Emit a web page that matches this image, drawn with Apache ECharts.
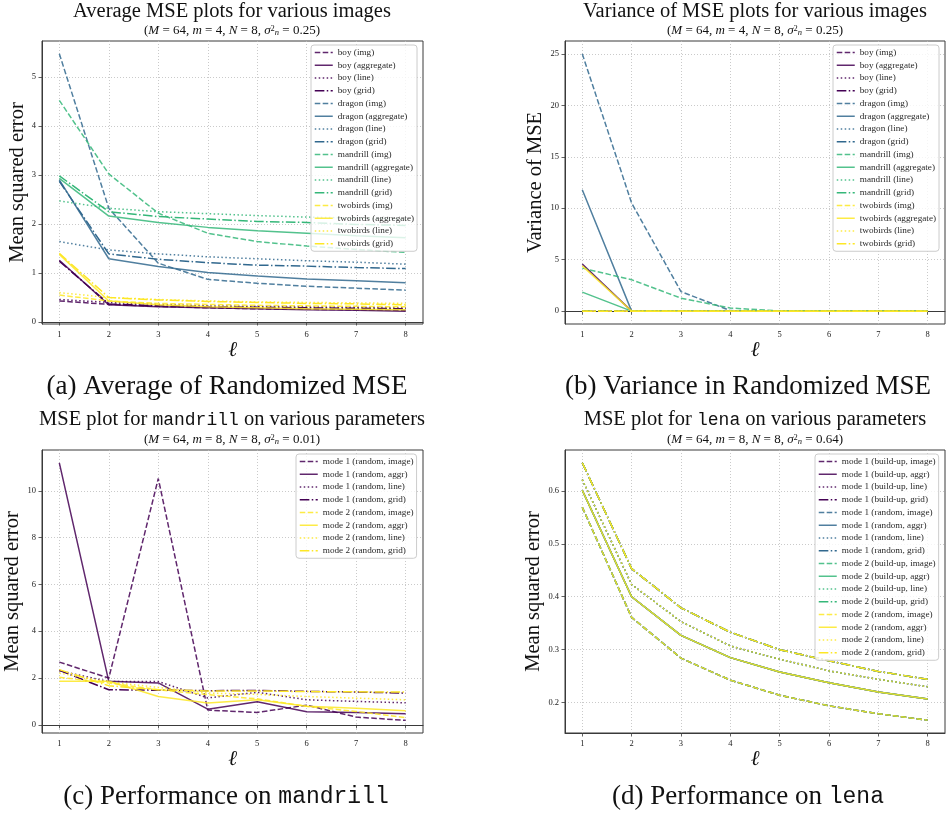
<!DOCTYPE html>
<html><head><meta charset="utf-8">
<script src="https://cdn.jsdelivr.net/npm/echarts@6/dist/echarts.min.js"></script>
<style>html,body{margin:0;padding:0;background:#fff}#c{width:946px;height:816px}</style>
</head><body><div id="c"></div>
<script>
// ---------- data ----------
const steps = [1, 2, 3, 4, 5, 6, 7, 8];
const xTicks = [1, 2, 3, 4, 5, 6, 7, 8];
const yTicksA = [0, 1, 2, 3, 4, 5];
const yTicksB = [0, 5, 10, 15, 20, 25];
const yTicksC = [0, 2, 4, 6, 8, 10];
const yTicksD = [0.2, 0.3, 0.4, 0.5, 0.6];

const images = ['boy', 'dragon', 'mandrill', 'twobirds'];
const methodsAB = ['img', 'aggregate', 'line', 'grid'];

// (a) Average MSE
const avgBoyImg = [0.43, 0.36, 0.32, 0.29, 0.27, 0.26, 0.25, 0.24];
const avgBoyAgg = [1.26, 0.35, 0.31, 0.29, 0.27, 0.25, 0.24, 0.22];
const avgBoyLine = [0.46, 0.40, 0.36, 0.33, 0.32, 0.31, 0.30, 0.29];
const avgBoyGrid = [1.24, 0.37, 0.33, 0.31, 0.30, 0.29, 0.28, 0.27];
const avgDragonImg = [5.47, 2.32, 1.20, 0.87, 0.79, 0.73, 0.69, 0.65];
const avgDragonAgg = [2.90, 1.29, 1.13, 1.01, 0.94, 0.88, 0.84, 0.80];
const avgDragonLine = [1.64, 1.47, 1.39, 1.33, 1.29, 1.25, 1.22, 1.18];
const avgDragonGrid = [2.87, 1.39, 1.28, 1.21, 1.16, 1.14, 1.11, 1.09];
const avgMandrillImg = [4.52, 3.02, 2.22, 1.81, 1.64, 1.55, 1.48, 1.42];
const avgMandrillAgg = [2.93, 2.16, 2.03, 1.93, 1.86, 1.81, 1.76, 1.72];
const avgMandrillLine = [2.47, 2.32, 2.25, 2.21, 2.17, 2.14, 2.12, 2.10];
const avgMandrillGrid = [2.98, 2.25, 2.15, 2.10, 2.05, 2.03, 1.99, 1.97];
const avgTwobirdsImg = [0.55, 0.43, 0.38, 0.36, 0.34, 0.33, 0.32, 0.31];
const avgTwobirdsAgg = [1.38, 0.43, 0.35, 0.31, 0.29, 0.27, 0.26, 0.25];
const avgTwobirdsLine = [0.60, 0.50, 0.46, 0.43, 0.41, 0.40, 0.39, 0.38];
const avgTwobirdsGrid = [1.40, 0.50, 0.45, 0.42, 0.40, 0.38, 0.37, 0.35];

// (b) Variance of MSE
const varBoyImg = [0, 0, 0, 0, 0, 0, 0, 0];
const varBoyAgg = [4.57, 0, 0, 0, 0, 0, 0, 0];
const varBoyLine = [0, 0, 0, 0, 0, 0, 0, 0];
const varBoyGrid = [0, 0, 0, 0, 0, 0, 0, 0];
const varDragonImg = [25.0, 10.5, 1.9, 0.05, 0, 0, 0, 0];
const varDragonAgg = [11.8, 0, 0, 0, 0, 0, 0, 0];
const varDragonLine = [0, 0, 0, 0, 0, 0, 0, 0];
const varDragonGrid = [0, 0, 0, 0, 0, 0, 0, 0];
const varMandrillImg = [4.18, 3.05, 1.26, 0.30, 0.02, 0, 0, 0];
const varMandrillAgg = [1.85, 0, 0, 0, 0, 0, 0, 0];
const varMandrillLine = [0, 0, 0, 0, 0, 0, 0, 0];
const varMandrillGrid = [0, 0, 0, 0, 0, 0, 0, 0];
const varTwobirdsImg = [0, 0, 0, 0, 0, 0, 0, 0];
const varTwobirdsAgg = [4.40, 0, 0, 0, 0, 0, 0, 0];
const varTwobirdsLine = [0, 0, 0, 0, 0, 0, 0, 0];
const varTwobirdsGrid = [0, 0, 0, 0, 0, 0, 0, 0];

// (c) mandrill
const manM1Image = [2.68, 2.00, 10.53, 0.63, 0.53, 0.84, 0.33, 0.19];
const manM1Aggr = [11.20, 1.86, 1.79, 0.67, 0.99, 0.56, 0.53, 0.47];
const manM1Line = [2.31, 1.85, 1.85, 1.15, 1.39, 1.07, 1.00, 0.94];
const manM1Grid = [2.33, 1.50, 1.48, 1.46, 1.47, 1.43, 1.40, 1.36];
const manM2Image = [2.03, 1.79, 1.50, 1.29, 1.11, 0.79, 0.57, 0.31];
const manM2Aggr = [1.86, 1.86, 1.21, 0.93, 1.07, 0.79, 0.71, 0.60];
const manM2Line = [2.21, 1.83, 1.60, 1.36, 1.30, 1.21, 1.14, 1.07];
const manM2Grid = [2.36, 1.67, 1.50, 1.45, 1.45, 1.42, 1.41, 1.40];

// (d) lena (the four modes overlap for each method)
const lenaImage = [0.569, 0.361, 0.284, 0.2425, 0.214, 0.194, 0.179, 0.167];
const lenaAggr = [0.601, 0.400, 0.327, 0.285, 0.258, 0.2375, 0.220, 0.207];
const lenaLine = [0.621, 0.423, 0.353, 0.307, 0.282, 0.260, 0.244, 0.230];
const lenaGrid = [0.653, 0.453, 0.379, 0.333, 0.300, 0.279, 0.259, 0.244];

// ---------- styling ----------
const SERIF = '"Liberation Serif","DejaVu Serif",serif';
const MONO = '"Liberation Mono","DejaVu Sans Mono",monospace';
const VIRIDIS = ['#440154', '#31688e', '#35b779', '#fde725'];
const DASHES = {
  img: [5.55, 2.4], image: [5.55, 2.4],
  aggregate: 'solid', aggr: 'solid',
  line: [1.5, 2.475],
  grid: [9.6, 2.4, 1.5, 2.4]
};
const ALPHA = { img: 0.85, image: 0.85, aggregate: 0.85, aggr: 0.85, line: 0.85, grid: 1 };

function mkSeries(name, ys, color, method, gi) {
  return {
    type: 'line', name: name, xAxisIndex: gi, yAxisIndex: gi,
    data: steps.map((x, i) => [x, ys[i]]),
    symbol: 'none', showSymbol: false, silent: true, animation: false,
    lineStyle: { color: color, width: 1.5, type: DASHES[method], opacity: ALPHA[method] },
    itemStyle: { color: color },
    emphasis: { disabled: true }
  };
}

const series = [];
const legA = [], legB = [], legC = [], legD = [];
const avgData = {
  boy: [avgBoyImg, avgBoyAgg, avgBoyLine, avgBoyGrid],
  dragon: [avgDragonImg, avgDragonAgg, avgDragonLine, avgDragonGrid],
  mandrill: [avgMandrillImg, avgMandrillAgg, avgMandrillLine, avgMandrillGrid],
  twobirds: [avgTwobirdsImg, avgTwobirdsAgg, avgTwobirdsLine, avgTwobirdsGrid]
};
const varData = {
  boy: [varBoyImg, varBoyAgg, varBoyLine, varBoyGrid],
  dragon: [varDragonImg, varDragonAgg, varDragonLine, varDragonGrid],
  mandrill: [varMandrillImg, varMandrillAgg, varMandrillLine, varMandrillGrid],
  twobirds: [varTwobirdsImg, varTwobirdsAgg, varTwobirdsLine, varTwobirdsGrid]
};
images.forEach((img, k) => {
  methodsAB.forEach((m, j) => {
    const n = img + ' (' + m + ')';
    series.push(mkSeries(n, avgData[img][j], VIRIDIS[k], m, 0));
    legA.push(n);
  });
});
images.forEach((img, k) => {
  methodsAB.forEach((m, j) => {
    const n = img + ' (' + m + ')\u200b';
    series.push(mkSeries(n, varData[img][j], VIRIDIS[k], m, 1));
    legB.push(n);
  });
});
const methodsCD = ['image', 'aggr', 'line', 'grid'];
const manData = [[manM1Image, manM1Aggr, manM1Line, manM1Grid], [manM2Image, manM2Aggr, manM2Line, manM2Grid]];
[0, 1].forEach(mi => {
  methodsCD.forEach((m, j) => {
    const n = 'mode ' + (mi + 1) + ' (random, ' + m + ')';
    series.push(mkSeries(n, manData[mi][j], mi === 0 ? VIRIDIS[0] : VIRIDIS[3], m, 2));
    legC.push(n);
  });
});
const lenaData = [lenaImage, lenaAggr, lenaLine, lenaGrid];
const lenaGroups = [['1', 'build-up'], ['1', 'random'], ['2', 'build-up'], ['2', 'random']];
lenaGroups.forEach((g, k) => {
  methodsCD.forEach((m, j) => {
    const n = 'mode ' + g[0] + ' (' + g[1] + ', ' + m + ')\u200b\u200b';
    series.push(mkSeries(n, lenaData[j], VIRIDIS[k], m, 3));
    legD.push(n);
  });
});

// ---------- layout ----------
const grids = [
  { left: 42, top: 41, width: 381, height: 283 },
  { left: 565, top: 41, width: 380, height: 283 },
  { left: 42, top: 450, width: 381, height: 283 },
  { left: 565, top: 450, width: 380, height: 283 }
].map(g => Object.assign(g, { show: true, borderColor: '#3a3a3a', borderWidth: 1, backgroundColor: 'transparent', containLabel: false, outerBoundsMode: 'none' }));

const tickLbl = { fontFamily: SERIF, fontSize: 8.5, color: '#222' };
const gridLine = { show: true, lineStyle: { type: [1, 2], color: '#bdbdbd', width: 0.8 } };

const xAxes = [0, 1, 2, 3].map(i => ({
  type: 'value', gridIndex: i, min: 0.65, max: 8.35,
  axisLine: { show: true, lineStyle: { color: '#3a3a3a', width: 1 } },
  axisTick: { show: true, inside: false, length: 3.5, customValues: xTicks, lineStyle: { color: '#3a3a3a', width: 0.8 } },
  axisLabel: Object.assign({ customValues: xTicks, margin: 6 }, tickLbl),
  splitLine: gridLine,
  name: 'ℓ', nameLocation: 'middle', nameGap: 14,
  nameTextStyle: { fontFamily: SERIF, fontStyle: 'italic', fontSize: 21, color: '#111' }
}));

function yAx(i, min, max, ticks, name, gap) {
  return {
    type: 'value', gridIndex: i, min: min, max: max,
    axisLine: { show: true, lineStyle: { color: '#3a3a3a', width: 1 } },
    axisTick: { show: true, inside: false, length: 3.5, customValues: ticks, lineStyle: { color: '#3a3a3a', width: 0.8 } },
    axisLabel: Object.assign({ customValues: ticks, margin: 6 }, tickLbl),
    splitLine: gridLine,
    name: name, nameLocation: 'middle', nameRotate: 90, nameGap: gap,
    nameTextStyle: { fontFamily: SERIF, fontSize: 20.5, color: '#111' }
  };
}
const yAxes = [
  yAx(0, -0.04, 5.73, yTicksA, 'Mean squared error', 12),
  yAx(1, -1.25, 26.25, yTicksB, 'Variance of MSE', 18),
  yAx(2, -0.35, 11.75, yTicksC, 'Mean squared error', 16),
  yAx(3, 0.1427, 0.677, yTicksD, 'Mean squared error', 21)
];

function legend(left, top, names) {
  return {
    orient: 'vertical', left: left, top: top, data: names,
    padding: [2.5, 3, 2.5, 3], itemWidth: 18, itemHeight: 10, itemGap: 2.75,
    backgroundColor: 'rgba(255,255,255,0.8)', borderColor: '#cccccc', borderWidth: 1, borderRadius: 3,
    textStyle: { fontFamily: SERIF, fontSize: 9.2, color: '#2a2a2a', lineHeight: 10 },
    itemStyle: { opacity: 0 }, lineStyle: { width: 1.5 },
    selectedMode: false, z: 10
  };
}

function txt(x, y, text, size, rich) {
  return {
    type: 'text', x: x, y: y, silent: true, z: 20,
    style: { text: text, fontFamily: SERIF, fontSize: size, fill: '#111', align: 'center', verticalAlign: 'middle', rich: rich || {} }
  };
}
const subRich = {
  i: { fontFamily: SERIF, fontStyle: 'italic', fontSize: 13, fill: '#111' },
  sup: { fontFamily: SERIF, fontSize: 8.5, fill: '#111', verticalAlign: 'top' },
  sub: { fontFamily: SERIF, fontStyle: 'italic', fontSize: 8.5, fill: '#111', verticalAlign: 'bottom' }
};
function subtitle(m, s) {
  return '({i|M} = 64, {i|m} = ' + m + ', {i|N} = 8, {i|σ}{sup|2}{sub|n} = ' + s + ')';
}
const ttRichTitle = { tt: { fontFamily: MONO, fontSize: 18, fill: '#111' } };
const ttRichCap = { tt: { fontFamily: MONO, fontSize: 23, fill: '#111' } };

const graphics = [
  txt(232, 12, 'Average MSE plots for various images', 20.5),
  txt(232, 31, subtitle(4, '0.25'), 13, subRich),
  txt(755, 12, 'Variance of MSE plots for various images', 20.5),
  txt(755, 31, subtitle(4, '0.25'), 13, subRich),
  txt(232, 420, 'MSE plot for {tt|mandrill} on various parameters', 20.5, ttRichTitle),
  txt(232, 440, subtitle(8, '0.01'), 13, subRich),
  txt(755, 420, 'MSE plot for {tt|lena} on various parameters', 20.5, ttRichTitle),
  txt(755, 440, subtitle(8, '0.64'), 13, subRich),
  txt(227, 387, '(a) Average of Randomized MSE', 27),
  txt(748, 387, '(b) Variance in Randomized MSE', 27),
  txt(226, 797, '(c) Performance on {tt|mandrill}', 27, ttRichCap),
  txt(748, 797, '(d) Performance on {tt|lena}', 27, ttRichCap)
];

const chart = echarts.init(document.getElementById('c'), null, { renderer: 'canvas' });
chart.setOption({
  animation: false,
  backgroundColor: '#ffffff',
  grid: grids,
  xAxis: xAxes,
  yAxis: yAxes,
  legend: [legend(311, 45, legA), legend(833, 45, legB), legend(296, 454, legC), legend(815, 454, legD)],
  tooltip: { show: false },
  series: series,
  graphic: graphics
});
</script></body></html>
